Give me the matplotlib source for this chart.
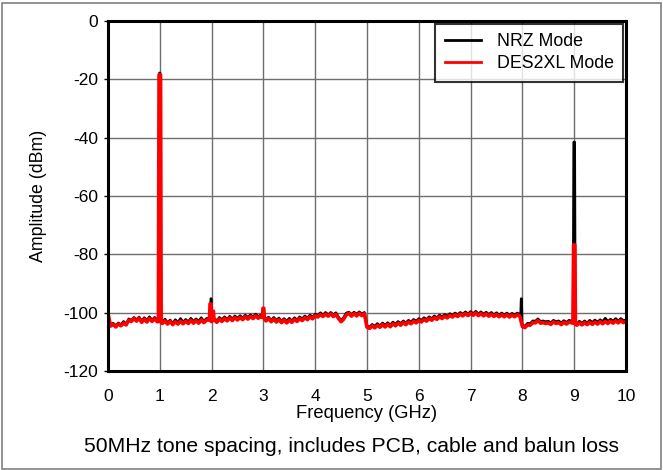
import numpy as np
import matplotlib
matplotlib.use("Agg")
import matplotlib.pyplot as plt
from matplotlib.patches import Rectangle

plt.rcParams['font.family'] = ['Liberation Sans', 'DejaVu Sans']

# ---------------- data ----------------
# noise floors, 0.05 GHz steps from 0 to 10 GHz
floor_freq = np.round(np.arange(0, 10.0001, 0.05), 3)
red_floor = [
    -100.3, -104.6, -104.0, -104.9, -103.9, -104.5, -103.6, -104.2, -102.6, -103.0,
    -102.0, -102.9, -101.9, -103.3, -102.2, -103.2, -102.0, -103.0, -102.1, -103.1,
    -103.0, -103.7, -102.8, -103.9, -103.0, -104.1, -103.1, -103.9, -102.9, -103.8,
    -102.9, -103.7, -102.6, -103.6, -102.7, -103.6, -102.5, -103.4, -102.6, -102.4,
    -103.1, -102.4, -103.3, -102.2, -103.0, -102.0, -102.8, -101.8, -102.7, -101.7,
    -102.5, -101.6, -102.4, -101.4, -102.2, -101.3, -102.0, -101.1, -101.9, -101.3,
    -101.8, -102.8, -102.0, -103.1, -102.2, -103.2, -102.4, -103.4, -102.5, -103.5,
    -102.6, -103.3, -102.3, -103.0, -102.0, -102.7, -101.7, -102.4, -101.4, -102.1,
    -101.0, -101.5, -100.6, -101.3, -100.5, -101.2, -100.4, -101.3, -100.6, -102.0,
    -103.1, -102.2, -100.7, -100.2, -101.2, -100.3, -101.1, -100.2, -101.0, -100.4,
    -105.0, -105.4, -104.5, -105.2, -104.3, -105.0, -104.1, -104.9, -104.0, -104.8,
    -103.8, -104.5, -103.6, -104.3, -103.4, -104.1, -103.2, -103.8, -102.9, -103.5,
    -102.6, -103.2, -102.3, -102.9, -102.0, -102.6, -101.7, -102.3, -101.4, -102.0,
    -101.2, -101.8, -100.9, -101.5, -100.7, -101.3, -100.5, -101.1, -100.3, -101.0,
    -100.2, -100.9, -100.1, -101.0, -100.3, -101.1, -100.4, -101.2, -100.5, -101.3,
    -100.6, -101.4, -100.7, -101.4, -100.7, -101.5, -100.8, -101.4, -100.7, -101.2,
    -104.8, -105.1, -104.2, -104.3, -103.4, -103.5, -102.7, -103.6, -103.4, -103.7,
    -103.5, -104.0, -103.2, -103.7, -103.4, -104.1, -103.3, -103.9, -103.2, -103.5,
    -103.6, -104.3, -103.5, -104.2, -103.4, -104.1, -103.3, -104.0, -103.2, -103.9,
    -103.1, -103.8, -103.0, -103.7, -102.9, -103.6, -102.8, -103.5, -102.7, -103.4,
    -103.0,
]
black_floor = [
    -100.6, -104.2, -103.6, -104.4, -103.5, -104.1, -103.0, -103.8, -102.1, -102.6,
    -101.6, -102.4, -101.5, -102.8, -101.7, -102.6, -101.4, -102.5, -101.6, -102.4,
    -102.6, -103.3, -102.2, -103.4, -102.5, -103.6, -102.4, -103.3, -102.0, -103.2,
    -102.3, -103.1, -101.9, -103.0, -102.1, -102.9, -101.7, -102.9, -102.0, -101.9,
    -102.6, -101.9, -102.8, -101.6, -102.4, -101.4, -102.3, -101.2, -102.1, -101.1,
    -101.9, -101.0, -101.8, -100.8, -101.6, -100.7, -101.4, -100.5, -101.3, -100.8,
    -101.2, -102.3, -101.5, -102.6, -101.6, -102.6, -101.8, -102.9, -102.0, -102.9,
    -101.9, -102.8, -101.7, -102.5, -101.4, -102.1, -101.1, -101.8, -100.8, -101.5,
    -100.5, -100.9, -100.0, -100.8, -99.9, -100.7, -99.9, -100.7, -100.0, -101.5,
    -102.6, -101.6, -100.1, -99.8, -100.6, -99.8, -100.5, -99.7, -100.4, -99.9,
    -104.5, -104.9, -104.0, -104.6, -103.7, -104.5, -103.5, -104.3, -103.4, -104.2,
    -103.2, -103.9, -103.0, -103.7, -102.8, -103.5, -102.6, -103.2, -102.3, -102.9,
    -102.0, -102.6, -101.7, -102.3, -101.4, -102.0, -101.1, -101.7, -100.8, -101.4,
    -100.6, -101.2, -100.3, -100.9, -100.1, -100.7, -99.9, -100.5, -99.7, -100.4,
    -99.6, -100.3, -99.5, -100.4, -99.7, -100.5, -99.8, -100.6, -99.9, -100.7,
    -100.0, -100.8, -100.1, -100.8, -100.1, -100.9, -100.2, -100.8, -100.1, -100.6,
    -104.3, -104.6, -103.6, -103.7, -102.8, -102.9, -102.1, -103.0, -102.8, -103.1,
    -102.9, -103.4, -102.6, -103.1, -102.8, -103.5, -102.7, -103.3, -102.6, -102.9,
    -103.1, -103.8, -102.9, -103.6, -102.8, -103.5, -102.6, -103.3, -102.5, -103.2,
    -102.4, -103.0, -101.9, -103.0, -102.2, -102.9, -102.0, -102.8, -102.0, -102.7,
    -102.5,
]
# tones: centre (GHz), peak (dBm), half width (GHz)
red_spike_freq = [1.00, 1.98, 2.02, 3.00, 9.00]
red_spike_peak = [-18.5, -97.0, -99.5, -98.5, -76.8]
red_spike_hw = [0.015, 0.010, 0.015, 0.008, 0.012]
black_spike_freq = [1.00, 1.99, 3.00, 7.98, 9.00]
black_spike_peak = [-17.8, -95.2, -99.0, -95.2, -41.5]
black_spike_hw = [0.006, 0.005, 0.004, 0.004, 0.010]

series_names = ["NRZ Mode", "DES2XL Mode"]
x_ticks = list(range(0, 11))
y_ticks = [0, -20, -40, -60, -80, -100, -120]
caption = "50MHz tone spacing, includes PCB, cable and balun loss"


def with_spikes(freq, floor, sf, sp, shw):
    freq = np.asarray(freq, float)
    floor = np.asarray(floor, float)
    keep = np.ones(len(freq), bool)
    xs, ys = [], []
    for c, p, h in zip(sf, sp, shw):
        keep &= ~((freq > c - h - 0.012) & (freq < c + h + 0.012))
        for xv in (c - h - 0.012, c + h + 0.012):
            xs.append(xv)
            ys.append(np.interp(xv, freq, floor))
        xs += [c - h, c + h]
        ys += [p, p]
    xa = np.concatenate([freq[keep], xs])
    ya = np.concatenate([floor[keep], ys])
    o = np.argsort(xa, kind="stable")
    return xa[o], ya[o]


bx, by = with_spikes(floor_freq, black_floor, black_spike_freq, black_spike_peak, black_spike_hw)
rx, ry = with_spikes(floor_freq, red_floor, red_spike_freq, red_spike_peak, red_spike_hw)

fig = plt.figure(figsize=(6.63, 4.70), dpi=100)
ax = fig.add_axes([108 / 663, 1 - 371 / 470, (626 - 108) / 663, (371 - 21) / 470])

ax.plot(bx, by, color="black", lw=1.8, label=series_names[0], zorder=3)
ax.plot(rx, ry, color="#ff0000", lw=2.6, label=series_names[1], zorder=4)

ax.set_xlim(0, 10)
ax.set_ylim(-120, 0)
ax.set_xticks(x_ticks)
ax.set_yticks(y_ticks)
ax.set_yticklabels([str(v) for v in y_ticks])
ax.grid(True, color="#6e6e6e", lw=1.0, zorder=1)
ax.set_axisbelow(True)
for s in ax.spines.values():
    s.set_linewidth(2.2)
    s.set_color("black")
    s.set_zorder(6)
ax.tick_params(axis="y", direction="out", length=3, width=1, labelsize=12.5, pad=4)
ax.tick_params(axis="x", length=0, labelsize=12.5, pad=13)
ax.set_xlabel("Frequency (GHz)", fontsize=13.2, labelpad=1)
ax.set_ylabel("Amplitude (dBm)", fontsize=12.8, labelpad=12)

leg = ax.legend(loc="upper right", fontsize=12.8, frameon=True, fancybox=False,
                borderaxespad=0.15, handlelength=2.0, handletextpad=0.9,
                borderpad=0.55, labelspacing=0.25)
leg.get_frame().set_edgecolor("black")
leg.get_frame().set_linewidth(1.5)
leg.set_zorder(7)
for ln in leg.get_lines():
    ln.set_linewidth(2.0)

fig.text(352 / 663, 1 - 446 / 470, caption, ha="center", va="center", fontsize=15.2)
fig.add_artist(Rectangle((0.003, 0.003), 0.994, 0.991, transform=fig.transFigure,
                         fill=False, edgecolor="#808080", lw=1.2))

fig.savefig("out.png", dpi=100)
